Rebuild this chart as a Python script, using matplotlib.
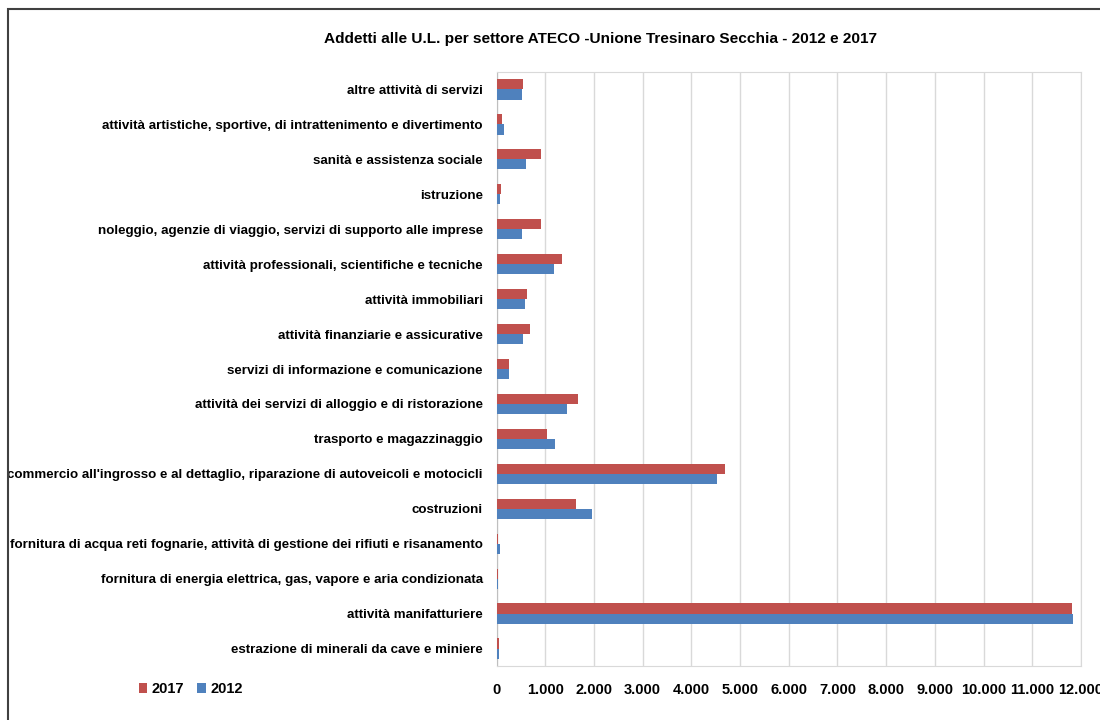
import matplotlib.pyplot as plt
from matplotlib.patches import Rectangle
from matplotlib.ticker import FuncFormatter

categories = [
    'estrazione di minerali da cave e miniere',
    'attività manifatturiere',
    'fornitura di energia elettrica, gas, vapore e aria condizionata',
    'fornitura di acqua reti fognarie, attività di gestione dei rifiuti e risanamento',
    'costruzioni',
    "commercio all'ingrosso e al dettaglio, riparazione di autoveicoli e motocicli",
    'trasporto e magazzinaggio',
    'attività dei servizi di alloggio e di ristorazione',
    'servizi di informazione e comunicazione',
    'attività finanziarie e assicurative',
    'attività immobiliari',
    'attività professionali, scientifiche e tecniche',
    'noleggio, agenzie di viaggio, servizi di supporto alle imprese',
    'istruzione',
    'sanità e assistenza sociale',
    'attività artistiche, sportive, di intrattenimento e divertimento',
    'altre attività di servizi',
]
addetti_2017 = [51, 11810, 31, 31, 1634, 4683, 1038, 1669, 257, 682, 627, 1353, 908, 92, 908, 107, 551]
addetti_2012 = [45, 11830, 24, 72, 1970, 4532, 1203, 1449, 257, 538, 593, 1182, 518, 66, 606, 160, 518]

plt.rcParams['font.family'] = ['Liberation Sans Narrow', 'Liberation Sans', 'DejaVu Sans']

fig = plt.figure(figsize=(11, 7.2), dpi=100)
ax = fig.add_axes([0.4514, 0.075, 0.5313, 0.825])

y = list(range(len(categories)))
h = 0.29
ax.barh([v + h / 2 for v in y], addetti_2017, height=h, color='#C0504D', label='2017', zorder=3)
ax.barh([v - h / 2 for v in y], addetti_2012, height=h, color='#4F81BD', label='2012', zorder=3)

ax.set_xlim(0, 12000)
ax.set_ylim(-0.5, len(categories) - 0.5)
ax.set_xticks(range(0, 12001, 1000))
ax.xaxis.set_major_formatter(FuncFormatter(lambda x, p: f'{int(x):,}'.replace(',', '.')))
ax.set_yticks(y)
ax.set_yticklabels(categories)
ax.tick_params(axis='x', length=0, labelsize=10.5, pad=12)
ax.tick_params(axis='y', length=0, labelsize=9.6, pad=10)
for lab in ax.get_xticklabels() + ax.get_yticklabels():
    lab.set_fontweight('bold')
ax.grid(axis='x', color='#D9D9D9', linewidth=1, zorder=0)
for s in ax.spines.values():
    s.set_color('#D9D9D9')
ax.spines['left'].set_color('#BFBFBF')

fig.text(0.5455, 0.946, 'Addetti alle U.L. per settore ATECO -Unione Tresinaro Secchia - 2012 e 2017',
         ha='center', va='center', fontsize=11.1, fontweight='bold')

ax.legend(loc='center', bbox_to_anchor=(0.1735, 0.043), bbox_transform=fig.transFigure,
          ncol=2, frameon=False, handlelength=0.6, handleheight=0.6, columnspacing=0.9,
          handletextpad=0.3, prop={'weight': 'bold', 'size': 10.5})

fig.patches.append(Rectangle((8 / 1100, -0.1), 1.2, 1 - 9 / 720 + 0.1, transform=fig.transFigure,
                             fill=False, edgecolor='#404040', linewidth=1.5))

fig.savefig('out.png', dpi=100)
